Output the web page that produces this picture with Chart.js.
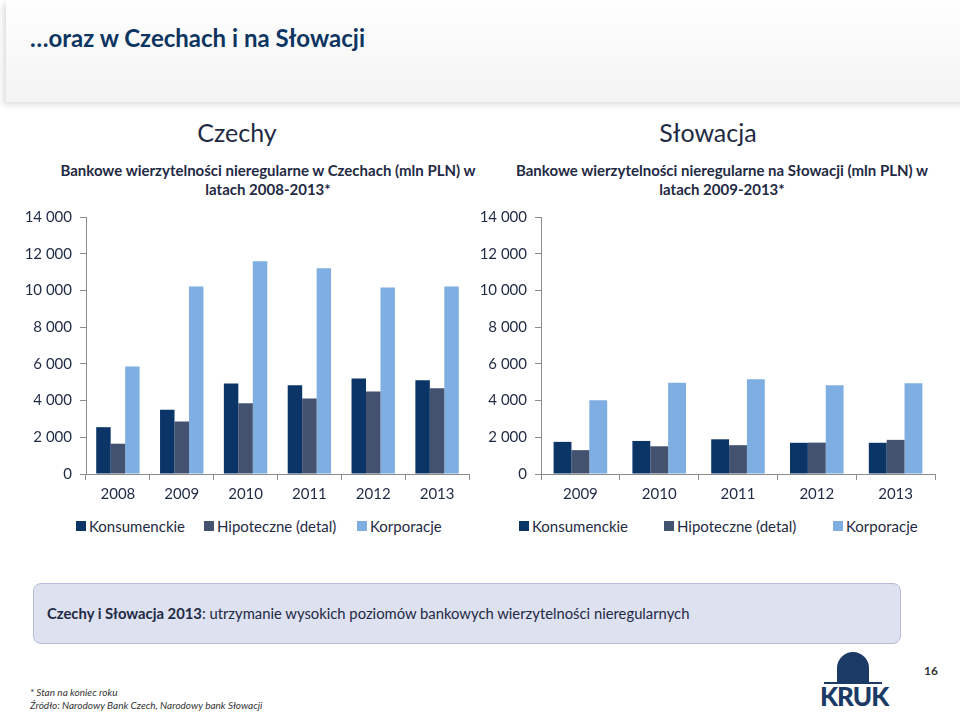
<!DOCTYPE html>
<html lang="pl">
<head>
<meta charset="utf-8">
<script src="https://cdn.jsdelivr.net/npm/chart.js@4"></script>
<style>
  body { margin: 0; width: 960px; height: 719px; background: #fff; font-family: Lato, "Open Sans", sans-serif; position: relative; overflow: hidden; }
  .header { position: absolute; left: 6px; top: 0; width: 970px; height: 102px; background: linear-gradient(#fefefe, #f4f4f4); box-shadow: -3px 3px 6px rgba(0,0,0,0.13); }
  .header h1 { position: absolute; left: 24px; top: 23px; margin: 0; font-size: 24px; font-weight: 700; color: #0d3561; }
  .country { position: absolute; top: 117px; font-size: 25px; color: #1f2a44; text-align: center; width: 300px; }
  .ctitle { position: absolute; top: 161px; font-size: 15px; font-weight: 700; color: #1f2a44; text-align: center; line-height: 19px; }
  canvas { position: absolute; }
  .legend { position: absolute; top: 517px; font-size: 15px; color: #1f2a44; }
  .legend span { position: absolute; white-space: nowrap; }
  .legend i { position: absolute; width: 10px; height: 10px; top: 4px; }
  .note { position: absolute; left: 33px; top: 583px; width: 868px; height: 61px; background: #dde1f0; border: 1px solid #b7bdd8; border-radius: 8px; box-sizing: border-box; }
  .note p { margin: 0; position: absolute; left: 13px; top: 20px; font-size: 14.8px; color: #1f2a44; }
  .foot { position: absolute; left: 30px; top: 686px; font-size: 10px; font-style: italic; color: #333; line-height: 13px; }
  .page { position: absolute; left: 924px; top: 663px; font-size: 12px; font-weight: 700; color: #333; }
  .logo { position: absolute; left: 818px; top: 652px; width: 70px; height: 60px; }
  .logo .bird { position: absolute; left: 19px; top: 0; width: 32px; height: 30px; border-radius: 16px 16px 0 0; background: #1b3a66; }
  .logo .bar { position: absolute; left: 6px; top: 30px; width: 58px; height: 2px; background: #1b3a66; }
  .logo .txt { position: absolute; left: 2px; top: 28px; font-size: 26px; font-weight: 900; color: #1b3a66; letter-spacing: -1px; }
</style>
</head>
<body>
<div class="header"><h1>…oraz w Czechach i na Słowacji</h1></div>

<div class="country" style="left:87px">Czechy</div>
<div class="ctitle" style="left:40px; width:456px">Bankowe wierzytelności nieregularne w Czechach (mln PLN) w<br>latach 2008-2013*</div>
<div class="country" style="left:558px">Słowacja</div>
<div class="ctitle" style="left:494px; width:456px">Bankowe wierzytelności nieregularne na Słowacji (mln PLN) w<br>latach 2009-2013*</div>

<canvas id="cz" width="480" height="310" style="left:0; top:200px"></canvas>
<canvas id="sk" width="480" height="310" style="left:480px; top:200px"></canvas>

<div class="legend" id="legCz"></div>
<div class="legend" id="legSk"></div>

<div class="note"><p><b>Czechy i Słowacja 2013</b>: utrzymanie wysokich poziomów bankowych wierzytelności nieregularnych</p></div>

<div class="foot">* Stan na koniec roku<br>Źródło: Narodowy Bank Czech, Narodowy bank Słowacji</div>
<div class="logo"><div class="bird"></div><div class="bar"></div><div class="txt">KRUK</div></div>
<div class="page">16</div>

<script>
var seriesNames = ['Konsumenckie', 'Hipoteczne (detal)', 'Korporacje'];
var seriesColors = ['#0b3467', '#43536f', '#7eaee2'];

var czYears = ['2008', '2009', '2010', '2011', '2012', '2013'];
var czKonsumenckie = [2550, 3500, 4930, 4830, 5200, 5110];
var czHipoteczne = [1650, 2860, 3850, 4110, 4490, 4670];
var czKorporacje = [5850, 10220, 11590, 11210, 10160, 10220];

var skYears = ['2009', '2010', '2011', '2012', '2013'];
var skKonsumenckie = [1750, 1800, 1890, 1700, 1700];
var skHipoteczne = [1300, 1510, 1570, 1710, 1860];
var skKorporacje = [4020, 4970, 5160, 4830, 4940];

var yMax = 14000;
var yStep = 2000;

function fmt(v) {
    return String(v).replace(/\B(?=(\d{3})+(?!\d))/g, ' ');
}

function makeChart(id, labels, values, axisWidth, padRight) {
    var ctx = document.getElementById(id).getContext('2d');
    return new Chart(ctx, {
        type: 'bar',
        data: {
            labels: labels,
            datasets: values.map(function(v, i) {
                return {
                    label: seriesNames[i],
                    data: v,
                    backgroundColor: seriesColors[i],
                    categoryPercentage: 0.68,
                    barPercentage: 1.0
                };
            })
        },
        options: {
            responsive: false,
            animation: false,
            layout: { padding: { top: 13, right: padRight, left: 0, bottom: 0 } },
            plugins: { legend: { display: false }, tooltip: { enabled: false } },
            scales: {
                x: {
                    grid: { drawOnChartArea: false, tickLength: 6, color: '#8c8c8c' },
                    border: { color: '#8c8c8c' },
                    ticks: { padding: 5, color: '#1f2a44', font: { family: 'Lato', size: 15 } },
                    afterFit: function(scale) { scale.height = 36; }
                },
                y: {
                    min: 0,
                    max: yMax,
                    grid: { drawOnChartArea: false, tickLength: 6, color: '#8c8c8c' },
                    border: { color: '#8c8c8c' },
                    ticks: { stepSize: yStep, padding: 8, color: '#1f2a44', font: { family: 'Lato', size: 15 }, callback: fmt },
                    afterFit: function(scale) { scale.width = axisWidth; }
                }
            }
        }
    });
}

function makeLegend(id, positions) {
    var el = document.getElementById(id);
    seriesNames.forEach(function(name, i) {
        var s = document.createElement('span');
        s.style.left = positions[i] + 'px';
        s.innerHTML = '<i style="left:0;background:' + seriesColors[i] + '"></i><span style="left:13px;position:absolute">' + name + '</span>';
        el.appendChild(s);
    });
}

makeChart('cz', czYears, [czKonsumenckie, czHipoteczne, czKorporacje], 86, 11);
makeChart('sk', skYears, [skKonsumenckie, skHipoteczne, skKorporacje], 61, 25);
makeLegend('legCz', [76, 204, 357]);
makeLegend('legSk', [519, 664, 833]);
</script>
</body>
</html>
